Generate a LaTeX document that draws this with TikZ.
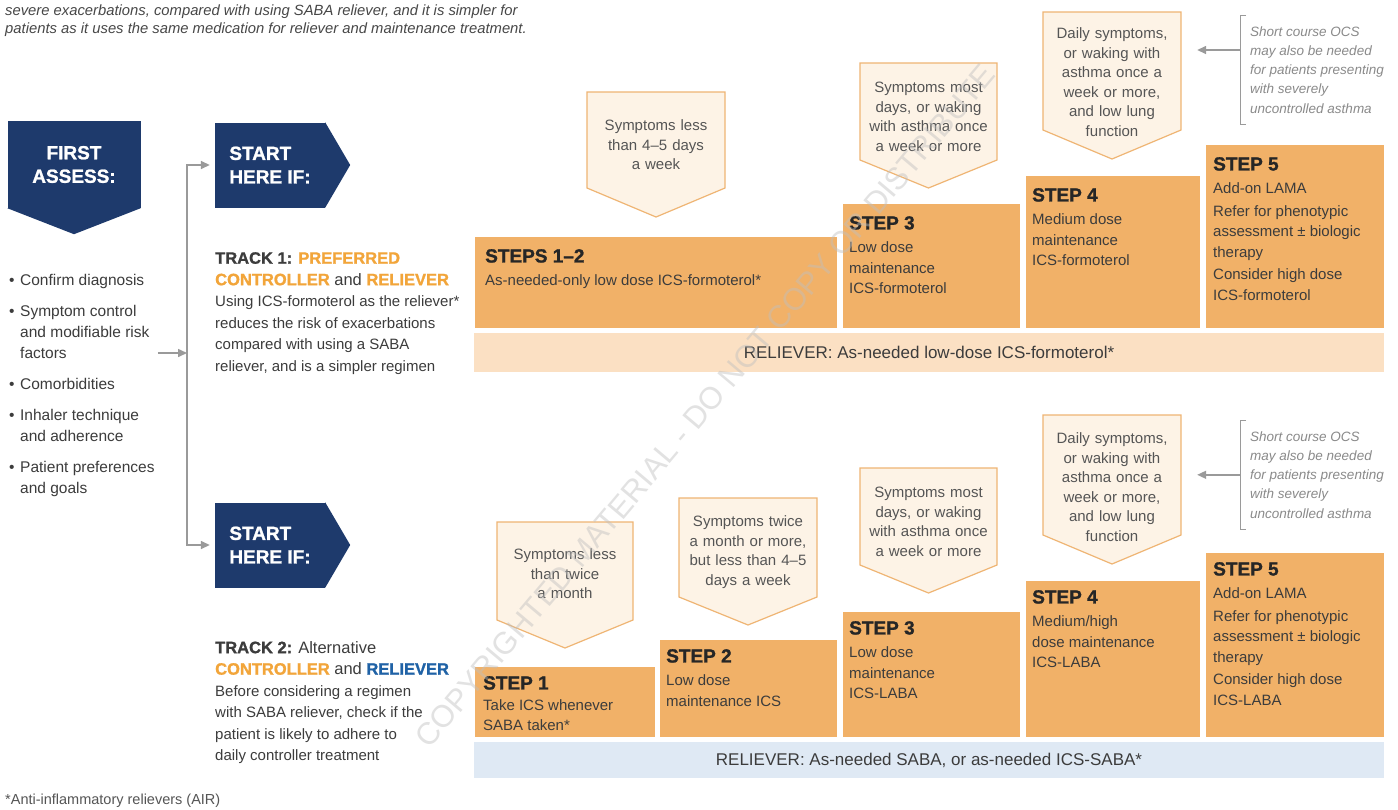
\documentclass[tikz,border=0pt]{standalone}
\usepackage{fontspec}
\setmainfont{Liberation Sans}
\newfontfamily\heavy{Liberation Sans}[Ligatures=TeX, BoldFeatures={FakeBold=1.2}]
\usetikzlibrary{arrows.meta, positioning, calc}

\definecolor{navy}{HTML}{1E3A6C}
\definecolor{stepor}{HTML}{F1B168}
\definecolor{cuefill}{HTML}{FDF3E6}
\definecolor{cueline}{HTML}{EFB574}
\definecolor{relor}{HTML}{FBE0C3}
\definecolor{relbl}{HTML}{DFE9F4}
\definecolor{hiorange}{HTML}{F2A53A}
\definecolor{hiblue}{HTML}{1F62A6}
\definecolor{txt}{HTML}{3C3C3C}
\definecolor{cuetxt}{HTML}{555555}
\definecolor{notetxt}{HTML}{8A8A8A}
\definecolor{linegray}{HTML}{9A9A9A}

\newcommand{\fs}[2]{\fontsize{#1}{#2}\selectfont}
\newcommand{\stephead}[1]{{\fontsize{19}{22}\selectfont\heavy\bfseries\color{black!85}#1}}
\newcommand{\trkhead}[1]{{\fontsize{16.5}{21.5}\selectfont\heavy\bfseries #1}}
\newcommand{\itm}{\makebox[11pt][l]{\textbullet}}
\newcommand{\ind}{\hspace*{11pt}}

\begin{document}
\begin{tikzpicture}[x=1pt, y=-1pt,
    every node/.style={inner sep=0pt, text=txt},
    navybox/.style={fill=navy, text=white, font=\fs{19}{23.5}\heavy\bfseries},
    steptext/.style={anchor=north west, align=left, font=\fs{15}{20.5}},
    cuebox/.style={fill=cuefill, draw=cueline, line width=1.2pt},
    cuetext/.style={text width=138pt, align=center, font=\fs{15}{19.5}, text=cuetxt},
    relbar/.style={minimum width=910pt, font=\fs{17}{20}},
    note/.style={anchor=west, align=left, inner xsep=10pt, inner ysep=11pt,
                 font=\fs{13.5}{19.3}\itshape, text=notetxt},
    bracket/.style={draw=linegray, line width=1pt},
    arr/.style={draw=linegray, line width=1.5pt, -{Triangle[length=9pt,width=8pt]}},
    trk/.style={anchor=north west, align=left, font=\fs{15}{21.5}}]

    \fill[white] (0,0) rectangle (1398,809);
    \useasboundingbox (0,0) rectangle (1398,809);

    % lead-in lines and footnote
    \node[anchor=west, align=left, font=\fs{14.8}{18}\itshape, text=black!72] (lead) at (5,20.5)
        {severe exacerbations, compared with using SABA reliever, and it is simpler for\\
         patients as it uses the same medication for reliever and maintenance treatment.};
    \node[anchor=west, font=\fs{14.5}{18}, text=cuetxt] (foot) at (5,801)
        {*Anti-inflammatory relievers (AIR)};

    % first assess
    \node[navybox, minimum width=133pt, minimum height=87pt, align=center] (assess) at (74,164.5)
        {FIRST\\ASSESS:};
    \fill[navy] (assess.south west) -- ($(assess.south)+(0,26)$) -- (assess.south east) -- cycle;
    \node[anchor=north west, align=left, font=\fs{15.5}{21}] (checks) at (9,274)
        {\itm Confirm diagnosis\\[10pt]
         \itm Symptom control\\\ind and modifiable risk\\\ind factors\\[10pt]
         \itm Comorbidities\\[10pt]
         \itm Inhaler technique\\\ind and adherence\\[10pt]
         \itm Patient preferences\\\ind and goals};

    % start here boxes
    \node[navybox, minimum width=110pt, minimum height=85pt, align=left] (start1) at (270,165)
        {START\\HERE IF:};
    \fill[navy] (start1.north east) -- ($(start1.east)+(25,0)$) -- (start1.south east) -- cycle;
    \node[navybox, minimum width=110pt, minimum height=85pt, align=left] (start2) at (270,545)
        {START\\HERE IF:};
    \fill[navy] (start2.north east) -- ($(start2.east)+(25,0)$) -- (start2.south east) -- cycle;

    \coordinate (split) at (187,353);
    \draw[arr, shorten <=3pt] (checks.east |- split) -- (split);
    \draw[arr, shorten >=5pt] (split) |- (start1.west);
    \draw[arr, shorten >=5pt] (split) |- (start2.west);

    % track captions
    \node[trk] (trk1) at (215,252)
        {\trkhead{TRACK 1: \textcolor{hiorange}{PREFERRED}}\\
         \trkhead{\textcolor{hiorange}{CONTROLLER} {\mdseries and} \textcolor{hiorange}{RELIEVER}}\\
         Using ICS-formoterol as the reliever*\\
         reduces the risk of exacerbations\\
         compared with using a SABA\\
         reliever, and is a simpler regimen};
    \node[trk] (trk2) at (215,641)
        {\trkhead{TRACK 2: {\mdseries Alternative}}\\
         \trkhead{\textcolor{hiorange}{CONTROLLER} {\mdseries and} \textcolor{hiblue}{RELIEVER}}\\
         Before considering a regimen\\
         with SABA reliever, check if the\\
         patient is likely to adhere to\\
         daily controller treatment};

    % track 1 steps
    \fill[stepor] (475,237) rectangle (837,328);
    \fill[stepor] (843,204) rectangle (1020,328);
    \fill[stepor] (1026,176) rectangle (1200,328);
    \fill[stepor] (1206,145) rectangle (1384,328);
    \node[steptext] (s12) at (485,249) {\stephead{STEPS 1--2}\\[3pt]As-needed-only low dose ICS-formoterol*};
    \node[steptext] (s3) at (849,216) {\stephead{STEP 3}\\[3pt]Low dose\\maintenance\\ICS-formoterol};
    \node[steptext] (s4) at (1032,188) {\stephead{STEP 4}\\[3pt]Medium dose\\maintenance\\ICS-formoterol};
    \node[steptext] (s5) at (1213,157) {\stephead{STEP 5}\\[3pt]Add-on LAMA\\[2pt]Refer for phenotypic\\
        assessment ± biologic\\therapy\\[2pt]Consider high dose\\ICS-formoterol};
    \node[relbar, fill=relor, minimum height=39pt] (rel1) at (929,352.5)
        {RELIEVER: As-needed low-dose ICS-formoterol*};

    % track 2 steps
    \fill[stepor] (475,667) rectangle (655,737);
    \fill[stepor] (660,640) rectangle (837,737);
    \fill[stepor] (843,612) rectangle (1020,737);
    \fill[stepor] (1026,581) rectangle (1200,737);
    \fill[stepor] (1206,553) rectangle (1384,737);
    \node[steptext, font=\fs{15}{19.5}] (t1) at (483,676) {\stephead{STEP 1}\\[2pt]Take ICS whenever\\SABA taken*};
    \node[steptext] (t2) at (666,649) {\stephead{STEP 2}\\[3pt]Low dose\\maintenance ICS};
    \node[steptext] (t3) at (849,621) {\stephead{STEP 3}\\[3pt]Low dose\\maintenance\\ICS-LABA};
    \node[steptext] (t4) at (1032,590) {\stephead{STEP 4}\\[3pt]Medium/high\\dose maintenance\\ICS-LABA};
    \node[steptext] (t5) at (1213,562) {\stephead{STEP 5}\\[3pt]Add-on LAMA\\[2pt]Refer for phenotypic\\
        assessment ± biologic\\therapy\\[2pt]Consider high dose\\ICS-LABA};
    \node[relbar, fill=relbl, minimum height=36pt] (rel2) at (929,760)
        {RELIEVER: As-needed SABA, or as-needed ICS-SABA*};

    % symptom callouts, track 1
    \draw[cuebox] (587,92) -- (725,92) -- (725,188) -- (656,217) -- (587,188) -- cycle;
    \draw[cuebox] (860,63) -- (997,63) -- (997,160) -- (928.5,188) -- (860,160) -- cycle;
    \draw[cuebox] (1043,12) -- (1181,12) -- (1181,130) -- (1112,159) -- (1043,130) -- cycle;
    \node[cuetext] (cue12) at (656,145) {Symptoms less\\than 4--5 days\\a week};
    \node[cuetext] (cue3) at (928.5,117) {Symptoms most\\days, or waking\\with asthma once\\a week or more};
    \node[cuetext] (cue4) at (1112,82) {Daily symptoms,\\or waking with\\asthma once a\\week or more,\\and low lung\\function};

    % symptom callouts, track 2
    \draw[cuebox] (497,522) -- (633,522) -- (633,620) -- (565,648) -- (497,620) -- cycle;
    \draw[cuebox] (679,498) -- (817,498) -- (817,597) -- (748,625) -- (679,597) -- cycle;
    \draw[cuebox] (860,468) -- (997,468) -- (997,565) -- (928.5,593) -- (860,565) -- cycle;
    \draw[cuebox] (1043,415) -- (1181,415) -- (1181,535) -- (1112,564) -- (1043,535) -- cycle;
    \node[cuetext] (cue1) at (565,574) {Symptoms less\\than twice\\a month};
    \node[cuetext] (cue2) at (748,552) {Symptoms twice\\a month or more,\\but less than 4--5\\days a week};
    \node[cuetext] (cue3b) at (928.5,522) {Symptoms most\\days, or waking\\with asthma once\\a week or more};
    \node[cuetext] (cue4b) at (1112,487) {Daily symptoms,\\or waking with\\asthma once a\\week or more,\\and low lung\\function};

    % OCS notes with bracket and arrow
    \node[note] (ocs1) at (1240,69.8)
        {Short course OCS\\may also be needed\\for patients presenting\\with severely\\uncontrolled asthma};
    \draw[bracket] ([xshift=6pt]ocs1.north west) -- (ocs1.north west) -- (ocs1.south west) -- ([xshift=6pt]ocs1.south west);
    \coordinate (ocs1out) at ($(ocs1.west)+(0,-19.8)$);
    \draw[arr, shorten >=16pt] (ocs1out) -- (ocs1out -| cue4.east);

    \node[note] (ocs2) at (1240,474.8)
        {Short course OCS\\may also be needed\\for patients presenting\\with severely\\uncontrolled asthma};
    \draw[bracket] ([xshift=6pt]ocs2.north west) -- (ocs2.north west) -- (ocs2.south west) -- ([xshift=6pt]ocs2.south west);
    \draw[arr, shorten >=16pt] (ocs2.west) -- (ocs2.west -| cue4b.east);

    % watermark across the chart
    \node[rotate=49.9, font=\fs{31}{34}, text=black!25, text opacity=0.45] (wmark) at (705,406)
        {COPYRIGHTED MATERIAL - DO NOT COPY OR DISTRIBUTE};
\end{tikzpicture}
\end{document}
